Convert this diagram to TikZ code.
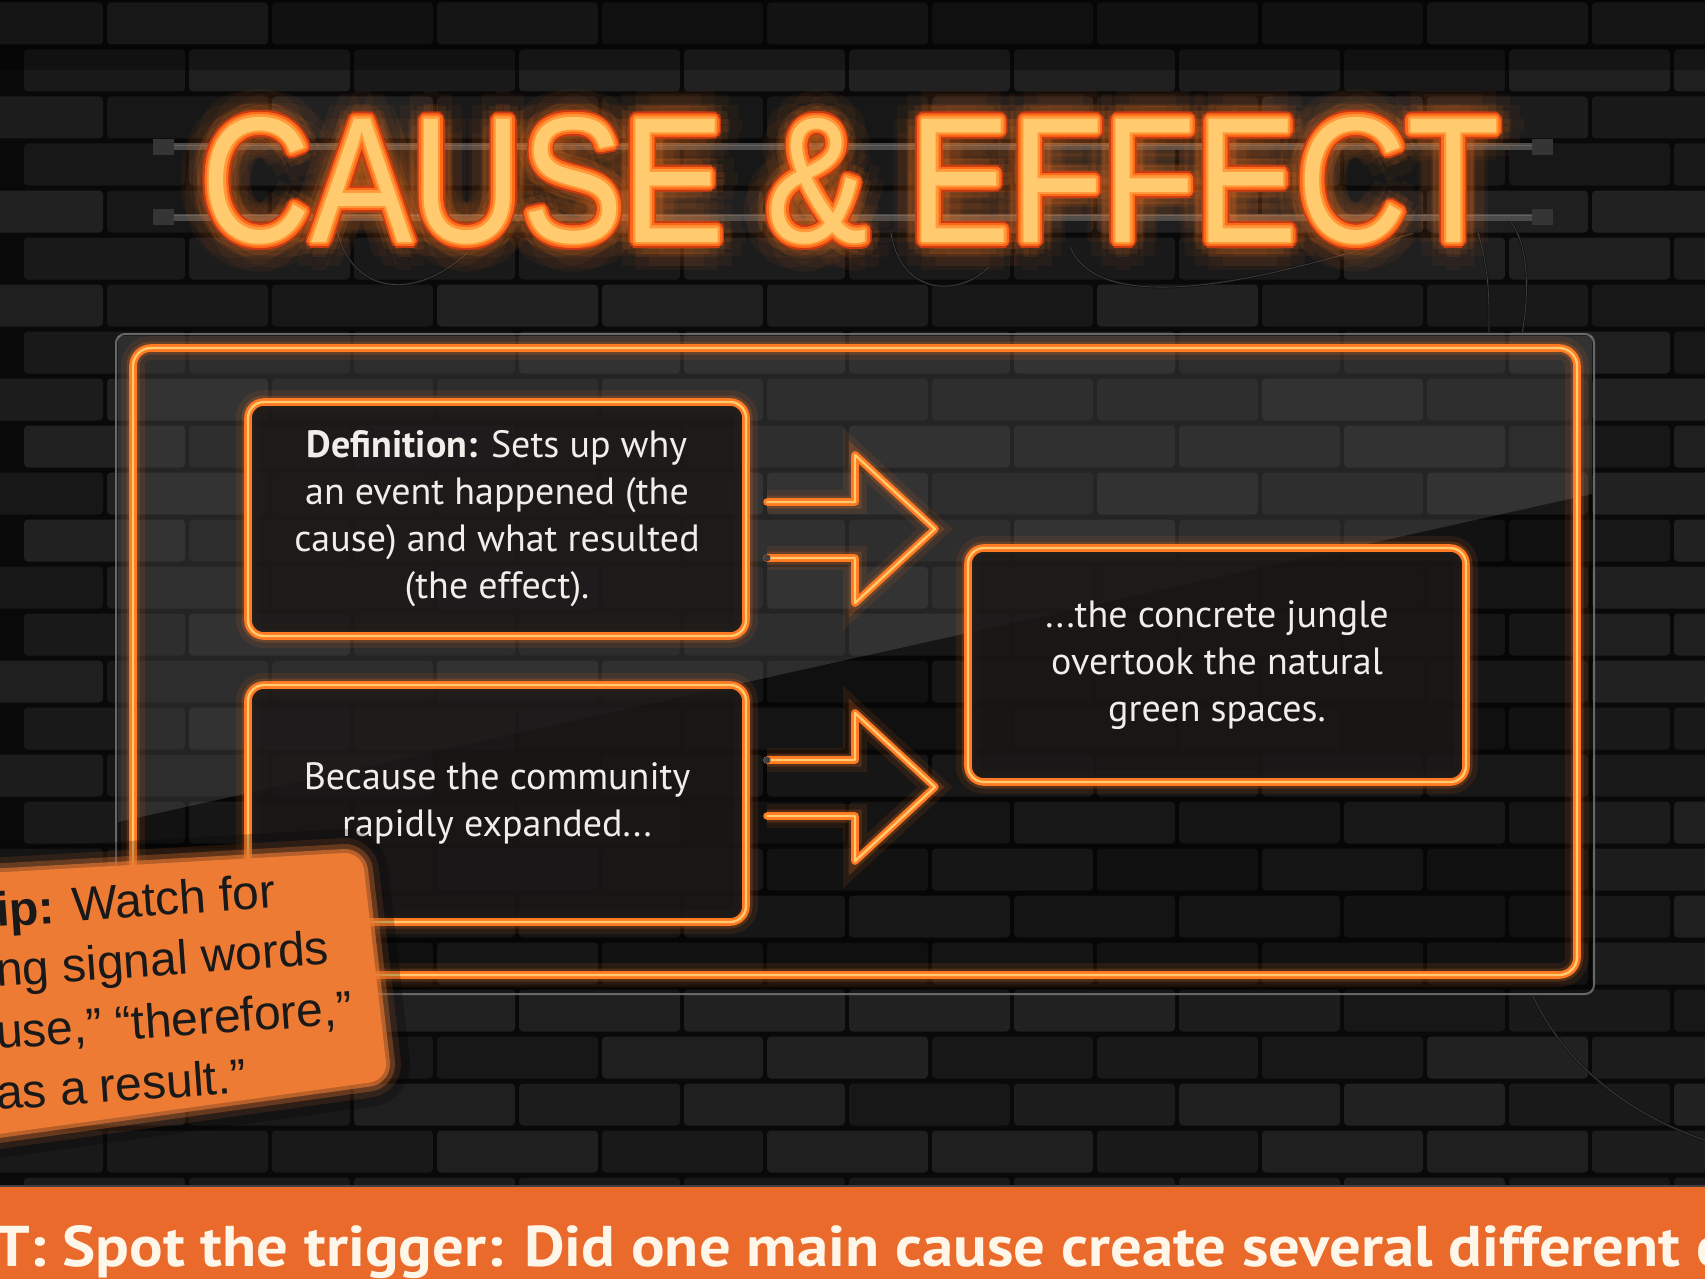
\documentclass[tikz,border=0pt]{standalone}
\usepackage{graphicx}
\usepackage{fontspec}
\setmainfont{PT Sans}
\newfontfamily\titlefont{Liberation Sans}
\newfontfamily\tipfont{Liberation Sans}
\usetikzlibrary{calc}
\definecolor{wall}{HTML}{090909}
\definecolor{neonO}{HTML}{FF7A22}
\definecolor{neonY}{HTML}{FFCB6E}
\definecolor{neonR}{HTML}{C93A14}
\definecolor{neonT}{HTML}{FF6A18}
\definecolor{neonL}{HTML}{FF9A3C}
\definecolor{bannerO}{HTML}{E96A2B}
\definecolor{bannerT}{HTML}{FFF6EA}
\definecolor{tipO}{HTML}{EE7B34}
\definecolor{boxfill}{HTML}{1A1817}
\definecolor{txtW}{HTML}{F1EEE9}
\definecolor{rodc}{HTML}{4A4A4A}
\definecolor{capc}{HTML}{353535}
\definecolor{wirec}{HTML}{121212}
\definecolor{panelc}{HTML}{8A8A8A}
\newcommand{\ttltext}{\resizebox{1297pt}{125pt}{\titlefont CAUSE \& EFFECT}}
\tikzset{
  glowline/.style={draw=neonO, line width=2.6pt, double=neonY, double distance=2.4pt,
    preaction={draw=neonO, line width=24pt, opacity=0.09},
    preaction={draw=neonO, line width=13pt, opacity=0.20}},
  neonbox/.style={glowline, rounded corners=16pt, fill=boxfill, fill opacity=0.85,
    text opacity=1, text=txtW, align=center, inner sep=0pt,
    font=\fontsize{38}{47}\selectfont},
  neonarrow/.style={glowline, line join=round, line cap=round},
  ttl/.style={anchor=base, inner sep=0pt},
  tiptext/.style={anchor=base west, rotate=4, text=black!90, inner sep=0pt,
    font=\tipfont\fontsize{48}{54}\selectfont},
  wireline/.style={draw=wirec, line width=2.6pt, postaction={draw=white, draw opacity=0.18, line width=0.8pt}},
}
\begin{document}
\begin{tikzpicture}[x=1pt,y=-1pt]
\useasboundingbox (0,0) rectangle (1705,1279);
% wall
\fill[wall] (0,0) rectangle (1705,1279);
\pgfmathsetseed{11}
\foreach \r in {0,...,27}{
  \pgfmathsetmacro{\off}{mod(\r,2)*82-60}
  \foreach \c in {0,...,11}{
    \pgfmathtruncatemacro{\g}{9+5*rnd}
    \fill[white!\g!black, rounded corners=4pt] (\c*165+\off+2,\r*47+2.5) rectangle ++(161,42);
  }
}
\fill[black, opacity=0.3] (0,0) rectangle (1705,70);
% rods
\foreach \yy in {147,217}{
  \draw[rodc, line width=7pt] (165,\yy) -- (1545,\yy);
  \draw[white, opacity=0.13, line width=1.5pt] (165,\yy-1.5) -- (1545,\yy-1.5);
  \fill[capc] (153,\yy-8) rectangle (174,\yy+8);
  \fill[capc] (1532,\yy-8) rectangle (1553,\yy+8);
}
% wires
\draw[wireline] (337,230) .. controls (350,290) and (410,305) .. (467,253);
\draw[wireline] (891,233) .. controls (900,292) and (955,300) .. (989,267);
\draw[wireline] (1070,247) .. controls (1095,305) and (1210,300) .. (1413,233);
\draw[wireline] (1478,233) .. controls (1490,275) and (1489,300) .. (1489,334);
\draw[wireline] (1511,222) .. controls (1528,245) and (1530,290) .. (1522,334);
\draw[wireline] (1533,996) .. controls (1565,1065) and (1630,1115) .. (1705,1140);
% title
\coordinate (T) at (851,242);
\foreach \a in {0,30,...,330}
  \node[ttl, text=neonO, text opacity=0.05] at ($(T)+(\a:28)$) {\ttltext};
\foreach \a in {0,30,...,330}
  \node[ttl, text=neonO, text opacity=0.10] at ($(T)+(\a:15)$) {\ttltext};
\foreach \a in {0,22.5,...,337.5}
  \node[ttl, text=neonR] at ($(T)+(\a:6.5)$) {\ttltext};
\foreach \a in {0,22.5,...,337.5}
  \node[ttl, text=neonT] at ($(T)+(\a:4.8)$) {\ttltext};
\foreach \a in {0,30,...,330}
  \node[ttl, text=neonL] at ($(T)+(\a:2.2)$) {\ttltext};
\node[ttl, text=neonY] (title) at (T) {\ttltext};
% glass panel
\draw[draw=panelc, draw opacity=0.7, line width=2pt, rounded corners=9pt, fill=black, fill opacity=0.28] (116,334) rectangle (1594,994);
\fill[white, opacity=0.12] (118,336) -- (1592,336) -- (1592,494) -- (118,822) -- cycle;
% outer neon frame
\node[glowline, rounded corners=18pt, minimum width=1444pt, minimum height=627pt, inner sep=0pt] (frame) at (855,661.5) {};
% boxes
\node[neonbox, minimum width=498pt, minimum height=234pt] (def) at (497,519)
  {\textbf{Definition:} Sets up why\\an event happened (the\\cause) and what resulted\\(the effect).};
\node[neonbox, minimum width=498pt, minimum height=237pt] (cause) at (497,803.5)
  {Because the community\\rapidly expanded...};
\node[neonbox, minimum width=498pt, minimum height=234pt] (effect) at (1217,665)
  {...the concrete jungle\\overtook the natural\\green spaces.};
% arrows
\coordinate (a1) at (851,529);
\coordinate (a2) at (851,787);
\foreach \p in {a1,a2}
  \draw[neonarrow] ($(\p)+(-84,-27)$) -- ($(\p)+(4,-27)$) -- ($(\p)+(4,-74)$) -- ($(\p)+(84,0)$)
    -- ($(\p)+(4,74)$) -- ($(\p)+(4,29)$) -- ($(\p)+(-84,29)$);
\fill[black!75] ($(a1)+(-84,29)$) circle (3.5pt);
\fill[black!75] ($(a2)+(-84,-27)$) circle (3.5pt);
% tip sticker (sprayed)
\path[fill=tipO, rounded corners=18pt,
  preaction={draw=black, opacity=0.22, line width=48pt},
  preaction={draw=tipO, opacity=0.12, line width=30pt},
  preaction={draw=tipO, opacity=0.3, line width=18pt},
  preaction={draw=tipO, opacity=0.6, line width=8pt}]
  (-30,874) -- (362,852) -- (388,1080) -- (-30,1138) -- cycle;
\node[tiptext] (tip1) at (-3,927) {\textbf{ip:} Watch for};
\node[tiptext] (tip2) at (-3,987) {ng signal words};
\node[tiptext] (tip3) at (-3,1049) {use,” “therefore,”};
\node[tiptext] (tip4) at (-3,1110) {as a result.”};
% banner
\fill[bannerO] (0,1187) rectangle (1705,1279);
\draw[black!75, line width=2.5pt] (0,1186) -- (1705,1186);
\node[anchor=base west, inner sep=0pt, text=bannerT] (trig) at (-6,1266)
  {\resizebox{1734pt}{41pt}{\bfseries T: Spot the trigger: Did one main cause create several different e}};
\end{tikzpicture}
\end{document}
